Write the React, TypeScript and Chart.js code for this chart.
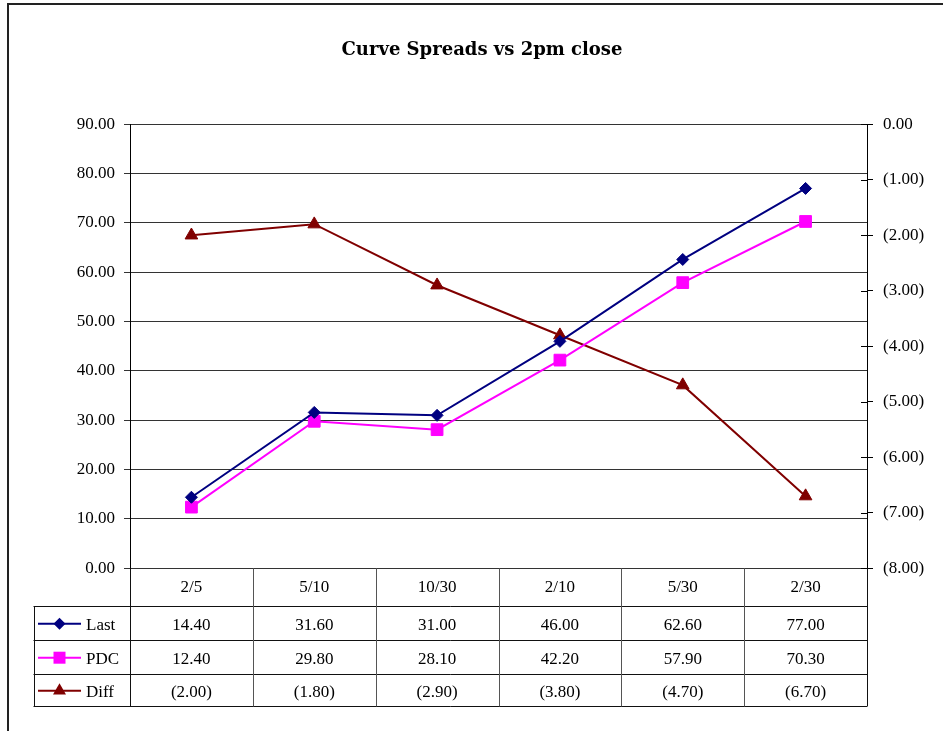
import React, { useEffect, useRef } from 'react';
import { Chart, registerables } from 'chart.js';

Chart.register(...registerables);

const chartTitle = 'Curve Spreads vs 2pm close';
const categories = ['2/5', '5/10', '10/30', '2/10', '5/30', '2/30'];
const lastValues = [14.4, 31.6, 31.0, 46.0, 62.6, 77.0];
const pdcValues = [12.4, 29.8, 28.1, 42.2, 57.9, 70.3];
const diffValues = [-2.0, -1.8, -2.9, -3.8, -4.7, -6.7];
const seriesLabels = ['Last', 'PDC', 'Diff'];
const seriesColors = ['#000080', '#FF00FF', '#800000'];
const leftAxisRange = [0, 90, 10];
const rightAxisRange = [-8, 0, 1];

const FONT = '"Liberation Serif", "Times New Roman", serif';
const TITLE_FONT = '"DejaVu Serif", "Liberation Serif", serif';

function fmt(v: number): string {
  const s = Math.abs(v).toFixed(2);
  return v < 0 ? `(${s})` : s;
}

function drawMarker(ctx: CanvasRenderingContext2D, kind: string, x: number, y: number, color: string) {
  ctx.fillStyle = color;
  ctx.beginPath();
  if (kind === 'rectRot') {
    const r = 6;
    ctx.moveTo(x - r, y);
    ctx.lineTo(x, y - r);
    ctx.lineTo(x + r, y);
    ctx.lineTo(x, y + r);
  } else if (kind === 'rect') {
    const s = 6;
    ctx.rect(x - s, y - s, 2 * s, 2 * s);
  } else {
    const r = 7.5;
    ctx.moveTo(x, y - r);
    ctx.lineTo(x + r * Math.sin((2 * Math.PI) / 3), y - r * Math.cos((2 * Math.PI) / 3));
    ctx.lineTo(x - r * Math.sin((2 * Math.PI) / 3), y - r * Math.cos((2 * Math.PI) / 3));
  }
  ctx.closePath();
  ctx.fill();
}

const tablePlugin = {
  id: 'dataTable',
  afterDraw(chart: any) {
    const { ctx, chartArea } = chart;
    const xs = chart.scales.x;
    const yr = chart.scales.yRight;
    ctx.save();

    // outer frame
    ctx.strokeStyle = '#222';
    ctx.lineWidth = 2;
    ctx.beginPath();
    ctx.moveTo(8, chart.height);
    ctx.lineTo(8, 4);
    ctx.lineTo(chart.width, 4);
    ctx.stroke();

    // inward half of right-axis ticks
    ctx.lineWidth = 1;
    ctx.strokeStyle = '#000';
    yr.ticks.forEach((t: any) => {
      const y = Math.round(yr.getPixelForValue(t.value)) + 0.5;
      ctx.beginPath();
      ctx.moveTo(chartArea.right - 6, y);
      ctx.lineTo(chartArea.right, y);
      ctx.stroke();
    });

    // data table
    const top = chartArea.bottom;
    const rows = [top, top + 37.4, top + 71.4, top + 105.4, top + 137.7];
    const legendLeft = 33.5;
    const left = chartArea.left;
    const right = chartArea.right;
    const colW = (right - left) / categories.length;
    const bottom = rows[rows.length - 1];

    const px = (v: number) => Math.round(v) + 0.5;

    ctx.strokeStyle = '#111';
    ctx.lineWidth = 1;
    for (let i = 1; i < rows.length; i++) {
      ctx.beginPath();
      ctx.moveTo(legendLeft, px(rows[i]));
      ctx.lineTo(right, px(rows[i]));
      ctx.stroke();
    }
    ctx.beginPath();
    ctx.moveTo(px(left), top);
    ctx.lineTo(px(left), px(bottom));
    ctx.moveTo(px(right), top);
    ctx.lineTo(px(right), px(bottom));
    ctx.moveTo(px(legendLeft), px(rows[1]));
    ctx.lineTo(px(legendLeft), px(bottom));
    ctx.stroke();
    ctx.strokeStyle = '#555';
    for (let i = 1; i < categories.length; i++) {
      const x = px(left + i * colW);
      ctx.beginPath();
      ctx.moveTo(x, top);
      ctx.lineTo(x, px(bottom));
      ctx.stroke();
    }

    ctx.fillStyle = '#000';
    ctx.font = `17px ${FONT}`;
    ctx.textAlign = 'center';
    ctx.textBaseline = 'middle';
    categories.forEach((c, i) => {
      ctx.fillText(c, xs.getPixelForValue(i), (rows[0] + rows[1]) / 2 + 0.5);
    });
    const seriesValues = [lastValues, pdcValues, diffValues];
    const markers = ['rectRot', 'rect', 'triangle'];
    seriesValues.forEach((vals, r) => {
      const mid = (rows[r + 1] + rows[r + 2]) / 2;
      const cy = mid + 2.5;
      ctx.fillStyle = '#000';
      ctx.textAlign = 'center';
      vals.forEach((v, i) => {
        ctx.fillText(fmt(v), xs.getPixelForValue(i), cy);
      });
      // legend key
      const ky = mid + 1;
      ctx.strokeStyle = seriesColors[r];
      ctx.lineWidth = 2;
      ctx.beginPath();
      ctx.moveTo(38, ky);
      ctx.lineTo(81, ky);
      ctx.stroke();
      drawMarker(ctx, markers[r], 59.5, ky, seriesColors[r]);
      ctx.fillStyle = '#000';
      ctx.textAlign = 'left';
      ctx.fillText(seriesLabels[r], 86, cy);
    });
    ctx.restore();
  },
};

export default function App() {
  const ref = useRef<HTMLCanvasElement | null>(null);
  useEffect(() => {
    document.body.style.margin = '0';
    const canvas = ref.current;
    if (!canvas) return;
    const chart = new Chart(canvas, {
      type: 'line',
      data: {
        labels: categories,
        datasets: [
          {
            label: seriesLabels[0],
            data: lastValues,
            borderColor: seriesColors[0],
            backgroundColor: seriesColors[0],
            pointStyle: 'rectRot',
            pointRadius: 6,
            pointBorderWidth: 1,
            borderWidth: 2,
            yAxisID: 'yLeft',
          },
          {
            label: seriesLabels[1],
            data: pdcValues,
            borderColor: seriesColors[1],
            backgroundColor: seriesColors[1],
            pointStyle: 'rect',
            pointRadius: 8.3,
            pointBorderWidth: 1,
            borderWidth: 2,
            yAxisID: 'yLeft',
          },
          {
            label: seriesLabels[2],
            data: diffValues,
            borderColor: seriesColors[2],
            backgroundColor: seriesColors[2],
            pointStyle: 'triangle',
            pointRadius: 7.3,
            pointBorderWidth: 1,
            borderWidth: 2,
            yAxisID: 'yRight',
          },
        ],
      },
      options: {
        responsive: false,
        animation: false,
        devicePixelRatio: 1,
        layout: { padding: { left: 21, right: 0, top: 0, bottom: 162.7 } },
        plugins: {
          legend: { display: false },
          tooltip: { enabled: false },
          title: {
            display: true,
            text: chartTitle,
            color: '#000',
            font: { family: TITLE_FONT, size: 18, weight: 'bold' },
            padding: { top: 40, bottom: 62.7 },
          },
        },
        scales: {
          x: {
            type: 'category',
            display: false,
            offset: true,
          },
          yLeft: {
            type: 'linear',
            position: 'left',
            min: leftAxisRange[0],
            max: leftAxisRange[1],
            afterFit: (s: any) => {
              s.width = 109;
            },
            ticks: {
              stepSize: leftAxisRange[2],
              callback: (v: any) => fmt(Number(v)),
              color: '#000',
              font: { family: FONT, size: 17 },
              padding: 9,
            },
            grid: { color: '#333', lineWidth: 1, tickLength: 6, drawTicks: true },
            border: { display: true, color: '#000', width: 1 },
          },
          yRight: {
            type: 'linear',
            position: 'right',
            min: rightAxisRange[0],
            max: rightAxisRange[1],
            afterFit: (s: any) => {
              s.width = 76;
            },
            ticks: {
              stepSize: rightAxisRange[2],
              callback: (v: any) => fmt(Number(v)),
              color: '#000',
              font: { family: FONT, size: 17 },
              padding: 10,
            },
            grid: { drawOnChartArea: false, color: '#000', tickLength: 6, drawTicks: true },
            border: { display: true, color: '#000', width: 1 },
          },
        },
      },
      plugins: [tablePlugin],
    });
    return () => chart.destroy();
  }, []);
  return (
    <div style={{ width: 943, height: 731, background: '#fff' }}>
      <canvas ref={ref} width={943} height={731} style={{ display: 'block' }} />
    </div>
  );
}
